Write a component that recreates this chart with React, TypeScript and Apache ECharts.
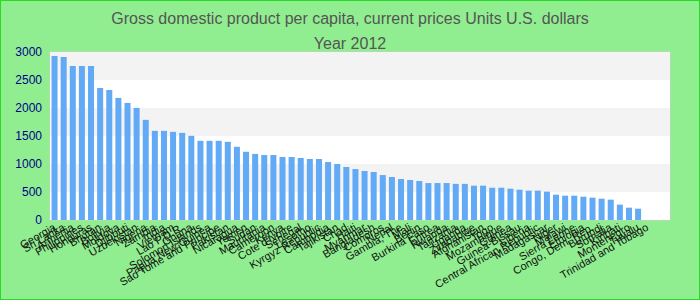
import React, { useEffect, useRef } from "react";
import * as echarts from "echarts";

const titleLine1 = "Gross domestic product per capita, current prices Units U.S. dollars";
const titleLine2 = "Year 2012";

const countries: string[] = [
  "Georgia", "Sri Lanka", "Armenia", "Philippines", "Honduras", "Bhutan", "Bolivia", "Moldova",
  "Djibouti", "Uzbekistan", "Nigeria", "Zambia", "India", "Vietnam", "Lao P.D.R.", "Ghana",
  "Solomon Islands", "Papua New Guinea", "Sao Tome and Principe", "Pakistan", "Nicaragua", "Yemen",
  "Sudan", "Mauritania", "Cameroon", "Kenya", "Cote d'Ivoire", "Senegal", "Lesotho", "Kyrgyz Republic",
  "Cambodia", "Tajikistan", "Chad", "Haiti", "Myanmar", "Bangladesh", "Comoros", "Nepal",
  "Gambia, The", "Mali", "Benin", "Burkina Faso", "Eritrea", "Rwanda", "Tanzania", "Uganda",
  "Zimbabwe", "Afghanistan", "Togo", "Mozambique", "Guinea", "Guinea-Bissau", "Liberia",
  "Central African Republic", "Madagascar", "Niger", "Malawi", "Sierra Leone", "Ethiopia",
  "Congo, Dem. Rep.", "Burundi", "Somalia", "Kiribati", "Montenegro", "Tuvalu",
  "Trinidad and Tobago", "", "",
];

const gdpValues: (number | null)[] = [
  2929, 2911, 2750, 2750, 2750, 2358, 2323, 2180,
  2091, 2002, 1788, 1592, 1592, 1574, 1556, 1503,
  1414, 1414, 1414, 1396, 1307, 1218,
  1180, 1160, 1160, 1125, 1125, 1107, 1089, 1089,
  1035, 1000, 946, 910, 875, 857, 803, 768,
  732, 714, 696, 660, 660, 660, 645, 645,
  613, 613, 577, 577, 559, 541, 524,
  524, 506, 452, 434, 434, 416,
  399, 381, 363, 274, 220, 202,
  null, null, null,
];

const yTicks = { min: 0, max: 3000, interval: 500 };

export default function App() {
  const ref = useRef<HTMLDivElement>(null);
  useEffect(() => {
    if (!ref.current) return;
    const chart = echarts.init(ref.current, undefined, { renderer: "svg" });
    chart.setOption({
      animation: false,
      backgroundColor: "#90ee90",
      textStyle: { fontFamily: "Liberation Sans, Arial, sans-serif" },
      title: {
        text: titleLine1 + "\n" + titleLine2,
        left: "center",
        top: 0,
        textStyle: {
          fontSize: 16,
          fontWeight: "normal",
          color: "#555555",
          lineHeight: 25,
          fontFamily: "Liberation Sans, Arial, sans-serif",
        },
      },
      grid: {
        left: 49,
        right: 29,
        top: 51,
        bottom: 79,
        show: true,
        borderColor: "#cccccc",
        borderWidth: 1,
        backgroundColor: "transparent",
      },
      xAxis: {
        type: "category",
        data: countries,
        axisLine: { show: false },
        axisTick: { show: false },
        axisLabel: {
          interval: 0,
          rotate: 30,
          fontSize: 11,
          color: "#111111",
          margin: 6,
        },
      },
      yAxis: {
        type: "value",
        min: yTicks.min,
        max: yTicks.max,
        interval: yTicks.interval,
        axisLine: { show: false },
        axisTick: { show: false },
        splitLine: { show: false },
        splitArea: { show: true, areaStyle: { color: ["#ffffff", "#f3f3f3"] } },
        axisLabel: {
          color: "#00008b",
          fontSize: 12,
          margin: 8,
          formatter: (v: number) => String(v),
        },
      },
      series: [
        {
          type: "bar",
          data: gdpValues,
          barWidth: "66%",
          itemStyle: { color: "#62aaf5" },
        },
      ],
    });
    return () => chart.dispose();
  }, []);
  return (
    <div
      style={{
        position: "absolute",
        left: 0,
        top: 0,
        width: 700,
        height: 300,
        boxSizing: "border-box",
        border: "1px solid #22dd22",
        background: "#90ee90",
      }}
    >
      <div ref={ref} style={{ width: 698, height: 298 }} />
    </div>
  );
}
